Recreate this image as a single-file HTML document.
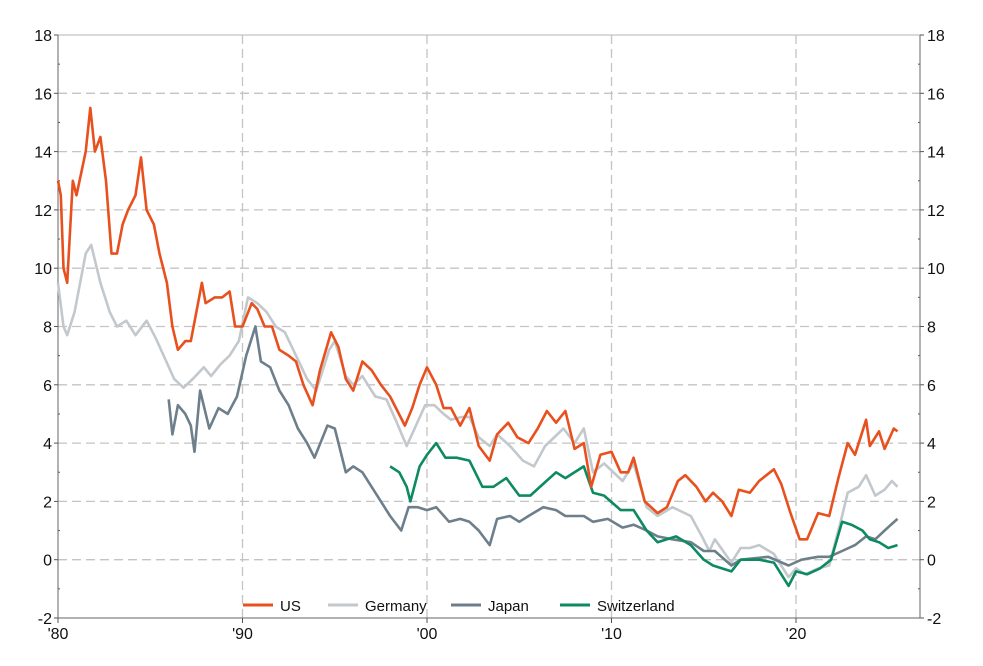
<!DOCTYPE html>
<html><head><meta charset="utf-8"><style>
body{margin:0;background:#fff;}
svg text{font-family:"Liberation Sans",sans-serif;font-size:16px;fill:#111;}
</style></head><body>
<svg id="c" width="983" height="661"></svg>
<script>
const yTicks=[-2,0,2,4,6,8,10,12,14,16,18];
const xTicks=[1980,1990,2000,2010,2020];
const xTickLabels=["'80","'90","'00","'10","'20"];
const seriesNames=["US","Germany","Japan","Switzerland"];
const usYears=[1980.0,1980.15,1980.3,1980.5,1980.8,1981.0,1981.5,1981.75,1982.0,1982.3,1982.6,1982.9,1983.2,1983.5,1983.8,1984.2,1984.5,1984.8,1985.2,1985.5,1985.9,1986.2,1986.5,1986.9,1987.2,1987.5,1987.8,1988.0,1988.5,1988.9,1989.3,1989.6,1990.0,1990.5,1990.8,1991.2,1991.6,1992.0,1992.5,1992.9,1993.3,1993.8,1994.2,1994.8,1995.2,1995.6,1996.0,1996.5,1997.0,1997.5,1998.0,1998.8,1999.2,1999.6,2000.0,2000.5,2000.9,2001.3,2001.8,2002.3,2002.8,2003.4,2003.8,2004.4,2004.9,2005.5,2006.0,2006.5,2007.0,2007.5,2008.0,2008.5,2008.9,2009.4,2010.0,2010.5,2010.9,2011.2,2011.8,2012.5,2013.0,2013.6,2014.0,2014.6,2015.1,2015.5,2016.0,2016.5,2016.9,2017.5,2018.0,2018.8,2019.2,2019.7,2020.2,2020.6,2021.2,2021.8,2022.3,2022.8,2023.2,2023.8,2024.0,2024.5,2024.8,2025.3,2025.5];
const usValues=[13,12.5,10,9.5,13,12.5,14,15.5,14,14.5,13,10.5,10.5,11.5,12,12.5,13.8,12,11.5,10.5,9.5,8,7.2,7.5,7.5,8.5,9.5,8.8,9,9,9.2,8,8,8.8,8.6,8,8,7.2,7,6.8,6,5.3,6.5,7.8,7.3,6.2,5.8,6.8,6.5,6,5.6,4.6,5.2,6,6.6,6,5.2,5.2,4.6,5.2,3.9,3.4,4.3,4.7,4.2,4,4.5,5.1,4.7,5.1,3.8,4,2.5,3.6,3.7,3,3,3.5,2,1.6,1.8,2.7,2.9,2.5,2,2.3,2,1.5,2.4,2.3,2.7,3.1,2.6,1.6,0.7,0.7,1.6,1.5,2.8,4,3.6,4.8,3.9,4.4,3.8,4.5,4.4];
const deYears=[1980.0,1980.3,1980.5,1980.9,1981.5,1981.8,1982.3,1982.8,1983.2,1983.7,1984.2,1984.8,1985.3,1985.8,1986.3,1986.8,1987.3,1987.9,1988.3,1988.8,1989.3,1989.8,1990.3,1990.8,1991.3,1991.8,1992.3,1992.9,1993.5,1994.0,1994.7,1995.0,1995.6,1996.0,1996.5,1997.2,1997.8,1998.3,1998.9,1999.4,1999.9,2000.4,2000.9,2001.3,2001.9,2002.3,2002.8,2003.4,2003.8,2004.5,2005.2,2005.8,2006.4,2007.4,2008.0,2008.5,2009.0,2009.6,2010.6,2011.2,2011.9,2012.5,2013.3,2014.3,2014.9,2015.3,2015.6,2016.5,2017.0,2017.5,2018.0,2018.8,2019.6,2020.0,2020.5,2021.2,2021.8,2022.5,2022.8,2023.4,2023.8,2024.3,2024.8,2025.2,2025.5];
const deValues=[9.5,8,7.7,8.5,10.5,10.8,9.5,8.5,8,8.2,7.7,8.2,7.6,6.9,6.2,5.9,6.2,6.6,6.3,6.7,7,7.5,9,8.8,8.5,8,7.8,7,6.2,5.8,7.2,7.5,6.3,6,6.3,5.6,5.5,4.8,3.9,4.6,5.3,5.3,5,4.8,4.9,4.9,4.2,3.9,4.3,3.9,3.4,3.2,3.9,4.5,4,4.5,3,3.3,2.7,3.3,1.8,1.5,1.8,1.5,0.8,0.3,0.7,-0.1,0.4,0.4,0.5,0.2,-0.6,-0.3,-0.5,-0.3,-0.2,1.5,2.3,2.5,2.9,2.2,2.4,2.7,2.5];
const jpYears=[1986.0,1986.2,1986.5,1986.9,1987.2,1987.4,1987.7,1988.2,1988.7,1989.2,1989.7,1990.2,1990.7,1991.0,1991.5,1992.0,1992.5,1993.0,1993.5,1993.9,1994.6,1995.0,1995.6,1996.0,1996.5,1997.0,1997.5,1998.0,1998.6,1999.0,1999.5,2000.0,2000.5,2001.2,2001.8,2002.3,2002.8,2003.4,2003.8,2004.5,2005.0,2005.5,2006.3,2007.0,2007.5,2008.5,2009.0,2009.8,2010.6,2011.2,2011.9,2012.5,2013.3,2014.3,2015.0,2015.6,2016.5,2017.0,2017.8,2018.5,2019.6,2020.3,2021.2,2021.8,2022.5,2023.2,2023.8,2024.3,2024.8,2025.5];
const jpValues=[5.5,4.3,5.3,5,4.6,3.7,5.8,4.5,5.2,5,5.6,7,8,6.8,6.6,5.8,5.3,4.5,4,3.5,4.6,4.5,3,3.2,3,2.5,2,1.5,1,1.8,1.8,1.7,1.8,1.3,1.4,1.3,1,0.5,1.4,1.5,1.3,1.5,1.8,1.7,1.5,1.5,1.3,1.4,1.1,1.2,1,0.8,0.7,0.6,0.3,0.3,-0.2,0,0.05,0.1,-0.2,0,0.1,0.1,0.3,0.5,0.8,0.7,1,1.4];
const chYears=[1998.0,1998.5,1998.9,1999.1,1999.6,2000.0,2000.5,2001.0,2001.6,2002.3,2003.0,2003.6,2004.3,2005.0,2005.6,2006.3,2007.0,2007.5,2008.5,2009.0,2009.6,2010.5,2011.2,2011.9,2012.5,2013.5,2014.3,2015.0,2015.5,2016.5,2017.0,2018.0,2018.8,2019.6,2020.0,2020.6,2021.3,2021.9,2022.5,2023.0,2023.6,2024.0,2024.5,2025.0,2025.5];
const chValues=[3.2,3,2.5,2,3.2,3.6,4,3.5,3.5,3.4,2.5,2.5,2.8,2.2,2.2,2.6,3,2.8,3.2,2.3,2.2,1.7,1.7,1,0.6,0.8,0.5,0,-0.2,-0.4,0,0,-0.1,-0.9,-0.4,-0.5,-0.3,0,1.3,1.2,1,0.7,0.6,0.4,0.5];
const colors=["#E8501E","#C3C8CD","#6E7F8C","#0E8A62"];

const NS="http://www.w3.org/2000/svg";
const svg=document.getElementById('c');
const L=58,R=920,T=35,B=618;
function x(yr){return L+(yr-1980)*(796-58)/40;}
function y(v){return B-(v+2)*(B-T)/20;}
function mk(tag,attrs,parent){const e=document.createElementNS(NS,tag);for(const k in attrs)e.setAttribute(k,attrs[k]);(parent||svg).appendChild(e);return e;}

yTicks.forEach(t=>{
  if(t>-2){const g=mk('line',{x1:L,x2:R,y1:y(t),y2:y(t),stroke:'#c4c4c4','stroke-width':1.3,'stroke-dasharray':t==18?'none':'9,5'});
  
  }
  const a=mk('text',{x:L-6,y:y(t)+6,'text-anchor':'end'});a.textContent=t;
  
  
  const b=mk('text',{x:R+7,y:y(t)+6,'text-anchor':'start'});b.textContent=t;
  
  
  mk('line',{x1:L-4,x2:L,y1:y(t),y2:y(t),stroke:'#555'});
  mk('line',{x1:R,x2:R+4,y1:y(t),y2:y(t),stroke:'#555'});
  if(t<18){mk('line',{x1:L,x2:L+2,y1:y(t+1),y2:y(t+1),stroke:'#555'});
  mk('line',{x1:R-2,x2:R,y1:y(t+1),y2:y(t+1),stroke:'#555'});}
});
xTicks.forEach((t,i)=>{
  if(i>0){const g=mk('line',{x1:x(t),x2:x(t),y1:T,y2:B,stroke:'#c4c4c4','stroke-width':1.3,'stroke-dasharray':'9,5'});
  
  }
  const a=mk('text',{x:x(t),y:B+21,'text-anchor':'middle'});a.textContent=xTickLabels[i];
  
  
  mk('line',{x1:x(t),x2:x(t),y1:B,y2:B+5,stroke:'#555'});
});
const ax=mk('path',{d:`M${L},${T}V${B}H${R}V${T}`,fill:'none',stroke:'#666','stroke-width':1});



const sets=[[deYears,deValues,1],[jpYears,jpValues,2],[chYears,chValues,3],[usYears,usValues,0]];
sets.forEach(([xs,vs,ci])=>{
  const d=xs.map((yr,i)=>(i?'L':'M')+x(yr).toFixed(1)+','+y(vs[i]).toFixed(1)).join('');
  const p=mk('path',{d:d,fill:'none',stroke:colors[ci],'stroke-width':2.6,'stroke-linejoin':'round'});
  
  
});

const lg=mk('g',{});


const lx=[243,328,451,560];
seriesNames.forEach((n,i)=>{
  const g=mk('g',{},lg);
  
  
  mk('line',{x1:lx[i],x2:lx[i]+30,y1:605,y2:605,stroke:colors[i],'stroke-width':3},g);
  const t=mk('text',{x:lx[i]+37,y:611,style:'font-size:15px'},g);t.textContent=n;
});
</script>
</body></html>
